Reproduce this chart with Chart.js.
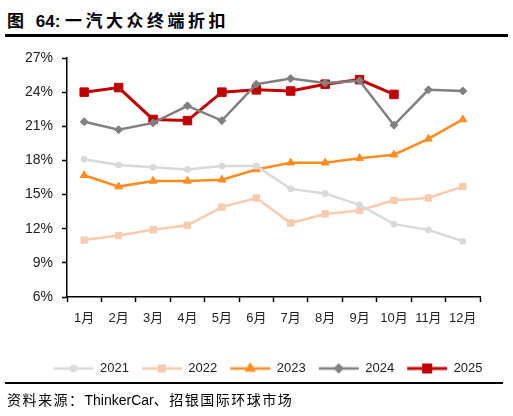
<!DOCTYPE html>
<html>
<head>
<meta charset="utf-8">
<script src="https://cdn.jsdelivr.net/npm/chart.js@4/dist/chart.umd.min.js"></script>
<style>
  body { margin: 0; width: 513px; height: 416px; background: #fff; position: relative; overflow: hidden;
         font-family: "Liberation Sans", Arial, "Noto Sans CJK SC", sans-serif; }
  #title { position: absolute; left: 7px; top: 7px; font-size: 17px; font-weight: bold;
           font-family: "Liberation Sans", Arial, "Noto Sans CJK SC", sans-serif; color: #000; white-space: nowrap; }
  #title .cjk { letter-spacing: 3.5px; }
  #topRule { position: absolute; left: 5px; top: 34px; width: 503px; height: 3px; background: #000; }
  #chartBox { position: absolute; left: 0; top: 40px; width: 513px; height: 345px; }
  #bottomRule { position: absolute; left: 5px; top: 382px; width: 498px; height: 2px; background: #000; }
  #source { position: absolute; left: 7px; top: 389px; font-size: 14px; color: #000; white-space: nowrap; }
  #source .cjk { letter-spacing: 1.5px; }
</style>
</head>
<body>
<div id="title"><span class="cjk">图 </span>64: <span class="cjk">一汽大众终端折扣</span></div>
<div id="topRule"></div>
<div id="chartBox"><canvas id="discountChart"></canvas></div>
<div id="bottomRule"></div>
<div id="source"><span class="cjk">资料来源：</span>ThinkerCar<span class="cjk">、招银国际环球市场</span></div>
<script>
const months = ['1月', '2月', '3月', '4月', '5月', '6月', '7月', '8月', '9月', '10月', '11月', '12月'];
const y2021 = [18.1, 17.6, 17.4, 17.2, 17.5, 17.5, 15.5, 15.1, 14.1, 12.4, 11.9, 10.9];
const y2022 = [11.0, 11.4, 11.9, 12.3, 13.9, 14.7, 12.5, 13.3, 13.6, 14.5, 14.7, 15.7];
const y2023 = [16.7, 15.7, 16.2, 16.2, 16.3, 17.2, 17.8, 17.8, 18.2, 18.5, 19.9, 21.6];
const y2024 = [21.4, 20.7, 21.3, 22.8, 21.5, 24.7, 25.2, 24.8, 25.0, 21.1, 24.2, 24.1];
const y2025 = [24.0, 24.4, 21.6, 21.5, 24.0, 24.2, 24.1, 24.7, 25.1, 23.8, null, null];

// legend swatch: a short line with the marker in the middle
function swatch(color, style, radius, lineWidth) {
    const c = document.createElement('canvas');
    c.width = 46;
    c.height = 14;
    const ctx = c.getContext('2d');
    ctx.strokeStyle = color;
    ctx.fillStyle = color;
    ctx.lineWidth = lineWidth;
    ctx.beginPath();
    ctx.moveTo(3, 7);
    ctx.lineTo(43, 7);
    ctx.stroke();
    Chart.helpers.drawPoint(ctx, { pointStyle: style, radius: radius, borderWidth: 1, rotation: 0 }, 23, 7);
    return c;
}

const series = [
    { label: '2021', data: y2021, color: '#d9d9d9', style: 'circle', radius: 3, width: 2.5 },
    { label: '2022', data: y2022, color: '#f8cbad', style: 'rect', radius: 4.5, width: 2.5 },
    { label: '2023', data: y2023, color: '#ff8c1f', style: 'triangle', radius: 4.5, width: 2.5 },
    { label: '2024', data: y2024, color: '#808080', style: 'rectRot', radius: 4, width: 2.5 },
    { label: '2025', data: y2025, color: '#c00000', style: 'rect', radius: 6, width: 3 }
];

// nudge the legend a bit to the right, like in the original
const legendShift = {
    id: 'legendShift',
    afterLayout(chart) {
        chart.legend.left += 28;
        chart.legend.right += 28;
    }
};

const ctx = document.getElementById('discountChart').getContext('2d');
const discountChart = new Chart(ctx, {
    type: 'line',
    data: {
        labels: months,
        datasets: series.map(s => ({
            label: s.label,
            data: s.data,
            borderColor: s.color,
            backgroundColor: s.color,
            borderWidth: s.width,
            pointStyle: s.style,
            pointRadius: s.radius,
            pointBorderWidth: 1,
            pointHoverRadius: s.radius,
            tension: 0,
            spanGaps: false,
            legendSwatch: swatch(s.color, s.style, s.style === 'rect' && s.radius > 5 ? 5 : s.radius - 0.5, s.width)
        }))
    },
    plugins: [legendShift],
    options: {
        responsive: true,
        maintainAspectRatio: false,
        animation: false,
        layout: { padding: { top: 18, right: 33, left: 0, bottom: 0 } },
        plugins: {
            tooltip: { enabled: false },
            legend: {
                position: 'bottom',
                labels: {
                    usePointStyle: true,
                    pointStyleWidth: 40,
                    padding: 13,
                    color: '#222',
                    font: { family: '"Liberation Sans", Arial, sans-serif', size: 13 },
                    generateLabels: chart => chart.data.datasets.map((d, i) => ({
                        text: d.label,
                        pointStyle: d.legendSwatch,
                        fillStyle: d.borderColor,
                        strokeStyle: d.borderColor,
                        lineWidth: 0,
                        fontColor: '#222',
                        datasetIndex: i,
                        hidden: false
                    }))
                }
            }
        },
        scales: {
            x: {
                offset: true,
                grid: { display: true, drawOnChartArea: false, offset: true, color: '#000', tickLength: 5, tickWidth: 1.5 },
                border: { color: '#000', width: 1.5 },
                ticks: {
                    color: '#222',
                    padding: 9,
                    maxRotation: 0,
                    autoSkip: false,
                    font: { family: '"Liberation Sans", Arial, "Noto Sans CJK SC", sans-serif', size: 13 }
                },
                afterFit: scale => { scale.height = 52; }
            },
            y: {
                min: 6,
                max: 27,
                grid: { display: true, drawOnChartArea: false, color: '#000', tickLength: 5, tickWidth: 1.5 },
                border: { color: '#000', width: 1.5 },
                ticks: {
                    stepSize: 3,
                    color: '#222',
                    padding: 9,
                    font: { family: '"Liberation Sans", Arial, sans-serif', size: 14 },
                    callback: v => v + '%'
                },
                afterFit: scale => { scale.width = 67; }
            }
        }
    }
});
</script>
</body>
</html>
